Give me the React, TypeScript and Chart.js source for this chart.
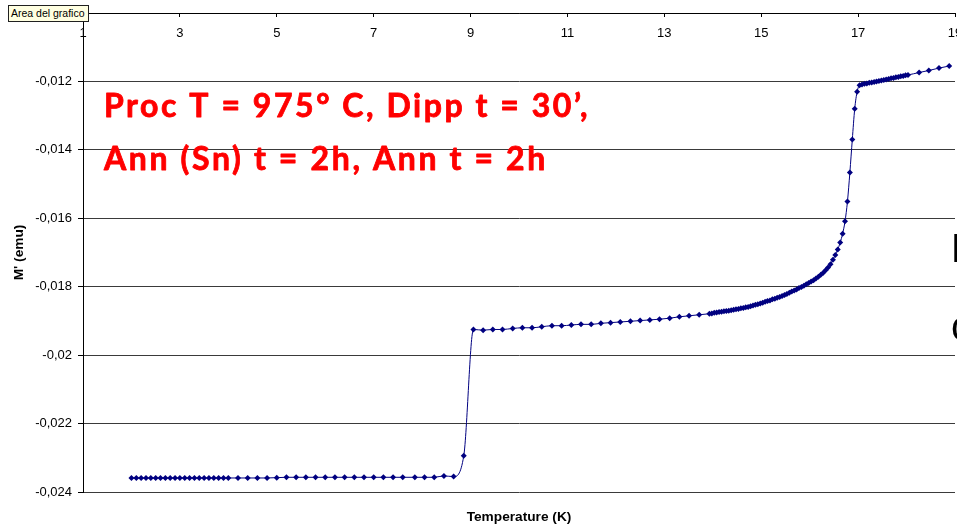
import React, { useEffect, useRef } from "react";
import { Chart, registerables } from "chart.js";

Chart.register(...registerables);

// Temperature sweep (K) and real part of the moment M' (emu), split by run segment.
// Fine sweep on the low-temperature plateau
const lowFineT = [2.0, 2.1, 2.2, 2.3, 2.4, 2.5, 2.6, 2.7, 2.8, 2.9, 3.0, 3.1, 3.2, 3.3, 3.4, 3.5, 3.6, 3.7, 3.8, 3.9, 4.0];
const lowFineM = [
  -0.02359, -0.02359, -0.02359, -0.02359, -0.02359, -0.02359, -0.02359, -0.02359, -0.02359, -0.02359, -0.02359,
  -0.02359, -0.02359, -0.02359, -0.02359, -0.02359, -0.02359, -0.02359, -0.02359, -0.02359, -0.02359,
];

// Coarse sweep up to the first transition
const lowCoarseT = [4.2, 4.4, 4.6, 4.8, 5.0, 5.2, 5.4, 5.6, 5.8, 6.0, 6.2, 6.4, 6.6, 6.8, 7.0, 7.2, 7.4, 7.6, 7.85, 8.05, 8.25, 8.45, 8.65, 8.86];
const lowCoarseM = [
  -0.02359, -0.02359, -0.02359, -0.02359, -0.02358, -0.02357, -0.02357, -0.02357, -0.02357, -0.02357, -0.02357, -0.02357,
  -0.02357, -0.02357, -0.02357, -0.02357, -0.02357, -0.02357, -0.02357, -0.02357, -0.02357, -0.02353, -0.02355, -0.02294,
];

// Intermediate plateau after the jump near 9 K
const midT = [9.06, 9.26, 9.46, 9.66, 9.87, 10.07, 10.27, 10.47, 10.68, 10.88, 11.08, 11.28, 11.49, 11.69, 11.89, 12.09, 12.3, 12.5, 12.7, 12.9, 13.11, 13.31, 13.51, 13.72];
const midM = [
  -0.01925, -0.01927, -0.01925, -0.01925, -0.01922, -0.0192, -0.0192, -0.01917, -0.01914, -0.01914, -0.01912, -0.0191,
  -0.0191, -0.01907, -0.01905, -0.01903, -0.01901, -0.01899, -0.01897, -0.01895, -0.01892, -0.01888, -0.01885, -0.01882,
];

// Fine sweep through the rise towards the main transition
const riseT = [
  13.93, 13.98, 14.03, 14.08, 14.13, 14.18, 14.23, 14.28, 14.33, 14.38, 14.43, 14.48, 14.53, 14.58, 14.63, 14.68,
  14.73, 14.78, 14.83, 14.88, 14.93, 14.98, 15.03, 15.08, 15.13, 15.18, 15.23, 15.28, 15.33, 15.38, 15.43, 15.48,
  15.53, 15.58, 15.63, 15.68, 15.73, 15.78, 15.83, 15.88, 15.93, 15.98, 16.03, 16.08, 16.13, 16.18, 16.23, 16.28,
  16.33, 16.38, 16.43, 16.48, 16.53, 16.58, 16.63, 16.68, 16.73, 16.78, 16.83, 16.88, 16.93, 16.98, 17.03,
];
const riseM = [
  -0.01879, -0.01878, -0.01876, -0.01875, -0.01874, -0.01873, -0.01872, -0.01871, -0.0187, -0.01869, -0.01867, -0.01866,
  -0.01865, -0.01863, -0.01862, -0.0186, -0.01859, -0.01857, -0.01855, -0.01853, -0.01851, -0.01849, -0.01847, -0.01844,
  -0.01842, -0.0184, -0.01837, -0.01835, -0.01832, -0.0183, -0.01827, -0.01824, -0.01821, -0.01818, -0.01814, -0.01811,
  -0.01808, -0.01804, -0.01801, -0.01797, -0.01793, -0.01789, -0.01785, -0.01781, -0.01776, -0.01771, -0.01765, -0.01759,
  -0.01752, -0.01744, -0.01734, -0.01721, -0.01707, -0.01691, -0.01671, -0.01645, -0.01609, -0.01551, -0.01466, -0.0137,
  -0.0128, -0.0123, -0.01211,
];

// Normal-state tail above the transition
const highT = [
  17.08, 17.13, 17.18, 17.23, 17.28, 17.33, 17.38, 17.43, 17.48, 17.53, 17.58, 17.63, 17.68, 17.73, 17.78, 17.83,
  17.88, 17.93, 17.98, 18.03, 18.26, 18.46, 18.67, 18.88,
];
const highM = [
  -0.01209, -0.01207, -0.01206, -0.01204, -0.01203, -0.01202, -0.012, -0.01199, -0.01197, -0.01196, -0.01194, -0.01193,
  -0.01191, -0.0119, -0.01188, -0.01187, -0.01185, -0.01184, -0.01182, -0.01181, -0.01174, -0.01168, -0.01161, -0.01155,
];

// Axis settings
const xMin = 1;
const xMax = 19;
const xStep = 2;
const yMin = -0.024;
const yMax = -0.01;
const yStep = 0.002;

const noteLines = ["Proc T = 975\u00b0 C, Dipp t = 30\u2019,", "Ann (Sn) t = 2h, Ann t = 2h"];

const commaDecimal = (v: number) => String(Math.round(v * 1000) / 1000).replace(".", ",");

export default function App() {
  const canvasRef = useRef<HTMLCanvasElement>(null);

  useEffect(() => {
    const canvas = canvasRef.current;
    if (!canvas) return;

    const temps = [...lowFineT, ...lowCoarseT, ...midT, ...riseT, ...highT];
    const moments = [...lowFineM, ...lowCoarseM, ...midM, ...riseM, ...highM];
    const points = temps.map((t, i) => ({ x: t, y: moments[i] }));

    const tickFont = { family: '"Liberation Sans", Arial, sans-serif', size: 13 };
    const titleFont = { family: '"Liberation Sans", Arial, sans-serif', size: 13.7, weight: "bold" as const, lineHeight: 1 };

    // Red process notes inside the plot, plus the clipped legend glyphs at the right edge
    const notes = {
      id: "processNotes",
      afterDatasetsDraw(chart: Chart) {
        const ctx = chart.ctx;
        ctx.save();
        ctx.textAlign = "left";
        ctx.textBaseline = "alphabetic";
        ctx.fillStyle = "#ff0000";
        ctx.strokeStyle = "#ff0000";
        ctx.lineWidth = 0.8;
        ctx.lineJoin = "round";
        const drawFitted = (text: string, x: number, y: number, width: number) => {
          ctx.font = 'bold 32px "Comic Sans MS", Lato, "Liberation Sans", sans-serif';
          (ctx as any).letterSpacing = "0px";
          const w = ctx.measureText(text).width;
          const ls = (width - w) / text.length;
          (ctx as any).letterSpacing = `${ls}px`;
          ctx.fillText(text, x, y);
          ctx.strokeText(text, x, y);
        };
        drawFitted(noteLines[0], 104, 117, 486);
        drawFitted(noteLines[1], 104, 170, 444);

        (ctx as any).letterSpacing = "0px";
        ctx.fillStyle = "#000000";
        ctx.font = '40px "Liberation Sans", Arial, sans-serif';
        ctx.fillText("B", 951, 262);
        ctx.fillText("c", 951, 340);
        ctx.restore();
      },
    };

    const chart = new Chart(canvas, {
      type: "line",
      data: {
        datasets: [
          {
            data: points,
            borderColor: "#000080",
            backgroundColor: "#000080",
            borderWidth: 1,
            pointStyle: "rectRot",
            pointRadius: 3,
            pointBorderWidth: 0,
            pointHoverRadius: 3,
            cubicInterpolationMode: "monotone",
            fill: false,
          },
        ],
      },
      options: {
        responsive: false,
        animation: false,
        events: [],
        layout: { padding: { top: 13, left: 0, right: 0, bottom: 0 } },
        plugins: {
          legend: { display: false },
          tooltip: { enabled: false },
          title: {
            display: true,
            text: "Temperature (K)",
            position: "bottom",
            fullSize: false,
            color: "#000000",
            font: titleFont,
            padding: { top: 18.3, bottom: 0 },
          },
        },
        scales: {
          x: {
            type: "linear",
            position: "top",
            min: xMin,
            max: xMax,
            ticks: {
              stepSize: xStep,
              mirror: true,
              padding: 13,
              color: "#000000",
              font: tickFont,
              maxRotation: 0,
              autoSkip: false,
            },
            grid: { drawOnChartArea: false, tickLength: -4, color: "#000000" },
            border: { color: "#000000", width: 1 },
            afterFit: (s: any) => {
              s.height = 0;
              s.paddingLeft = 0;
              s.paddingRight = 0;
            },
          },
          y: {
            type: "linear",
            min: yMin,
            max: yMax,
            ticks: {
              stepSize: yStep,
              padding: 6,
              color: "#000000",
              font: tickFont,
              callback: (v: any) => commaDecimal(Number(v)),
            },
            grid: { color: "#3a3a3a", tickLength: 5, tickColor: "#000000" },
            border: { color: "#000000", width: 1 },
            title: {
              display: true,
              text: "M' (emu)",
              color: "#000000",
              font: titleFont,
              padding: { top: 12, bottom: 0 },
            },
            afterFit: (s: any) => {
              s.width = 83;
              s.paddingTop = 0;
              s.paddingBottom = 0;
            },
          },
        },
      },
      plugins: [notes],
    } as any);

    return () => chart.destroy();
  }, []);

  return (
    <div
      style={{
        position: "fixed",
        left: 0,
        top: 0,
        width: 957,
        height: 524,
        overflow: "hidden",
        background: "#ffffff",
      }}
    >
      <canvas ref={canvasRef} width={958} height={524} style={{ display: "block" }} />
      <div
        style={{
          position: "absolute",
          left: 8,
          top: 5,
          width: 81,
          height: 17,
          boxSizing: "border-box",
          border: "1px solid #202020",
          background: "#ffffe1",
          fontFamily: '"Liberation Sans", Arial, sans-serif',
          fontSize: 10.5,
          lineHeight: "15px",
          paddingLeft: 2,
          color: "#000000",
          whiteSpace: "nowrap",
          overflow: "hidden",
        }}
      >
        Area del grafico
      </div>
    </div>
  );
}
